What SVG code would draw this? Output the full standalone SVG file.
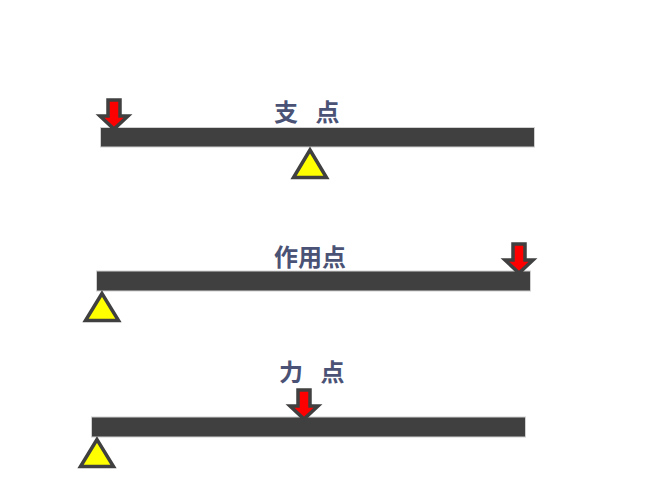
<svg xmlns="http://www.w3.org/2000/svg" width="650" height="488" viewBox="0 0 650 488">
<defs>
<style>
.bar{fill:#404040;stroke:#d0d0d0;stroke-width:1}
.tri{fill:#ffff00;stroke:#404040;stroke-width:3.5;stroke-linejoin:miter}
.arr{fill:#ff0000;stroke:#404040;stroke-width:3.5;stroke-linejoin:miter}
.lbl{font-family:"Noto Sans CJK JP","Noto Sans CJK SC",sans-serif;font-size:24px;font-weight:bold;fill:#4a5275}
</style>
<path id="arrow" d="M-6,-27 H6 V-11 H14 L0,2 L-14,-11 H-6 Z"/>
</defs>
<rect width="650" height="488" fill="#ffffff"/>
<g id="lever1">
<rect class="bar" x="100.5" y="127.5" width="434" height="19.5"/>
<polygon class="tri" points="310,150 293.5,177.5 326.5,177.5"/>
<use href="#arrow" class="arr" x="114" y="127"/>
<text class="lbl" x="274" y="121" letter-spacing="6">支 点</text>
</g>
<g id="lever2">
<rect class="bar" x="96.5" y="271" width="434" height="20"/>
<polygon class="tri" points="102,293.5 85.5,320.5 118.5,320.5"/>
<use href="#arrow" class="arr" x="519" y="271"/>
<text class="lbl" x="274" y="266">作用点</text>
</g>
<g id="lever3">
<rect class="bar" x="91.5" y="417" width="434" height="20"/>
<polygon class="tri" points="97,439.5 80.5,466.5 113.5,466.5"/>
<use href="#arrow" class="arr" x="304" y="417"/>
<text class="lbl" x="279" y="381" letter-spacing="6">力 点</text>
</g>
</svg>
